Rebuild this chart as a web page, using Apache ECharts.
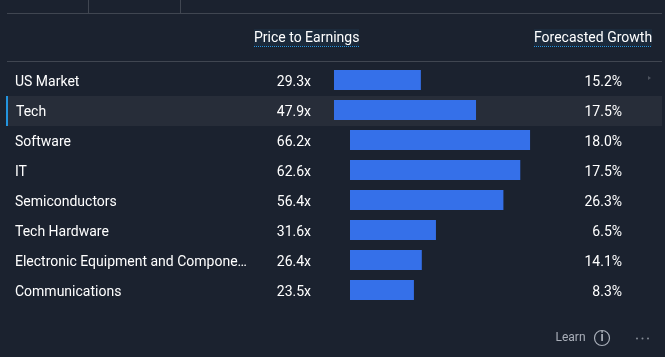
<!DOCTYPE html>
<html>
<head>
<meta charset="utf-8">
<style>html,body{margin:0;padding:0;background:#1b222f;}#c{width:665px;height:357px;}</style>
<script src="https://cdn.jsdelivr.net/npm/echarts@6/dist/echarts.min.js"></script>
</head>
<body>
<div id="c"></div>
<script>
const marketCategories = ['US Market', 'Tech'];
const marketPE = [29.3, 47.9];
const marketGrowth = [15.2, 17.5];
const industryCategories = ['Software', 'IT', 'Semiconductors', 'Tech Hardware', 'Electronic Equipment and Compone…', 'Communications'];
const industryPE = [66.2, 62.6, 56.4, 31.6, 26.4, 23.5];
const industryGrowth = [18.0, 17.5, 26.3, 6.5, 14.1, 8.3];

const font = 'Roboto';
const textColor = '#ffffff';
const xMax = 90;
const left1 = 334, scale1 = 2.965, left2 = 350, scale2 = 2.72;
const growthRight = 622;
const textPad = [4, 0, 0, 0];

function yPair(idx, cats, growth, nameMargin, growthMargin) {
  return [
    { gridIndex: idx, type: 'category', inverse: true, data: cats, axisLine: {show: false}, axisTick: {show: false}, splitLine: {show: false},
      axisLabel: { color: textColor, fontFamily: font, fontSize: 14, align: 'left', margin: nameMargin, interval: 0, padding: textPad,
        formatter: v => v === 'Tech' ? '{t|' + v + '}' : v,
        rich: { t: { color: textColor, fontFamily: font, fontSize: 14, padding: [0, 0, 0, 1] } } } },
    { gridIndex: idx, type: 'category', inverse: true, position: 'right', data: growth.map(v => v.toFixed(1) + '%'), axisLine: {show: false}, axisTick: {show: false}, splitLine: {show: false},
      axisLabel: { color: textColor, fontFamily: font, fontSize: 14, align: 'right', margin: growthMargin, interval: 0, padding: textPad,
        rich: { v: { color: textColor, fontFamily: font, fontSize: 14 } } } }
  ];
}
function xA(idx) {
  return { gridIndex: idx, type: 'value', min: 0, max: xMax, show: false };
}
function bars(idx, yIdx, values, offset) {
  return {
    type: 'bar', xAxisIndex: idx, yAxisIndex: yIdx, data: values, barWidth: 20, itemStyle: {color: '#3570e9'}, silent: true,
    label: { show: true, position: [offset, '50%'], align: 'right', verticalAlign: 'middle', color: textColor, fontFamily: font, fontSize: 14, padding: textPad,
      formatter: p => p.value.toFixed(1) + 'x',
      rich: { v: { color: textColor, fontFamily: font, fontSize: 14 } } }
  };
}
const w1 = scale1 * xMax, w2 = scale2 * xMax;
const option = {
  animation: false,
  backgroundColor: '#1b222f',
  grid: [
    { left: left1, top: 65, width: w1, height: 60 },
    { left: left2, top: 125, width: w2, height: 180 }
  ],
  xAxis: [xA(0), xA(1)],
  yAxis: [
    ...yPair(0, marketCategories, marketGrowth, left1 - 15, growthRight - left1 - w1),
    ...yPair(1, industryCategories, industryGrowth, left2 - 15, growthRight - left2 - w2)
  ],
  series: [bars(0, 0, marketPE, -23), bars(1, 2, industryPE, -39)],
  graphic: [
    { type: 'rect', z: -1, silent: true, shape: {x: 6, y: 96, width: 656, height: 30}, style: {fill: '#272d39'} },
    { type: 'rect', z: 1, silent: true, shape: {x: 6, y: 96, width: 2, height: 30}, style: {fill: '#2394df'} },
    { type: 'rect', silent: true, shape: {x: 7, y: 13, width: 655, height: 1}, style: {fill: '#404651'} },
    { type: 'rect', silent: true, shape: {x: 7, y: 61, width: 655, height: 1}, style: {fill: '#404651'} },
    { type: 'rect', silent: true, shape: {x: 88, y: 0, width: 1, height: 13}, style: {fill: '#404651'} },
    { type: 'rect', silent: true, shape: {x: 180, y: 0, width: 1, height: 13}, style: {fill: '#404651'} },
    { type: 'rect', silent: true, shape: {x: 254, y: 29, width: 105, height: 17}, style: {fill: '#1c2a3b'} },
    { type: 'rect', silent: true, shape: {x: 534, y: 29, width: 118, height: 17}, style: {fill: '#1c2a3b'} },
    { type: 'text', silent: true, z: 2, style: {x: 254, y: 38, text: 'Price to Earnings', fill: textColor, font: '14px Roboto', verticalAlign: 'middle'} },
    { type: 'text', silent: true, z: 2, style: {x: 534, y: 38, text: 'Forecasted Growth', fill: textColor, font: '14px Roboto', verticalAlign: 'middle'} },
    { type: 'line', silent: true, shape: {x1: 254, y1: 46.5, x2: 359, y2: 46.5}, style: {stroke: '#2394df', lineWidth: 1, lineDash: [1, 1]} },
    { type: 'line', silent: true, shape: {x1: 534, y1: 46.5, x2: 652, y2: 46.5}, style: {stroke: '#2394df', lineWidth: 1, lineDash: [1, 1]} },
    { type: 'polygon', silent: true, shape: {points: [[648, 76], [651, 78], [648, 80]]}, style: {fill: '#4d535e'} },
    { type: 'text', silent: true, style: {x: 555.5, y: 338, text: 'Learn', fill: '#a9afb9', font: '12px Roboto', verticalAlign: 'middle'} },
    { type: 'circle', silent: true, shape: {cx: 602, cy: 338, r: 7.5}, style: {fill: 'none', stroke: '#a9afb9', lineWidth: 1.2} },
    { type: 'text', silent: true, style: {x: 602, y: 338, text: 'i', fill: '#a9afb9', font: 'bold 12px Roboto', align: 'center', verticalAlign: 'middle'} },
    { type: 'circle', silent: true, shape: {cx: 637, cy: 338.5, r: 1}, style: {fill: '#858b96'} },
    { type: 'circle', silent: true, shape: {cx: 642.5, cy: 338.5, r: 1}, style: {fill: '#858b96'} },
    { type: 'circle', silent: true, shape: {cx: 648, cy: 338.5, r: 1}, style: {fill: '#858b96'} }
  ]
};
echarts.init(document.getElementById('c'), null, {renderer: 'canvas'}).setOption(option);
</script>
</body>
</html>
